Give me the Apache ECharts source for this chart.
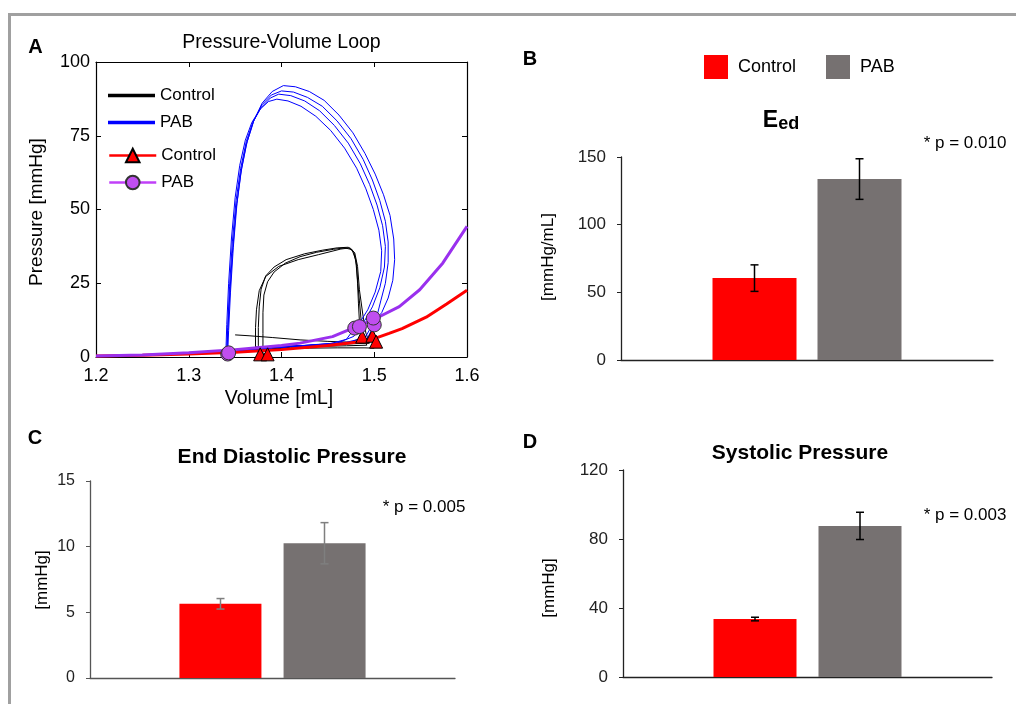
<!DOCTYPE html>
<html><head><meta charset="utf-8">
<script src="https://cdn.jsdelivr.net/npm/echarts@6/dist/echarts.min.js"></script>
<style>html,body{margin:0;padding:0;background:#fff}#c{width:1016px;height:704px}</style>
</head><body><div id="c"></div>
<script>
const FONT = 'Liberation Sans, Arial, sans-serif';

// ---------- Panel A: pressure-volume loops (volume mL, pressure mmHg) ----------
const controlLoop1 = [[1.350,7.5],[1.365,7.2],[1.390,6.6],[1.420,5.8],[1.450,5.3],[1.475,5.0],[1.486,6.5],[1.484,12],[1.483,18],[1.482,25],[1.481,31],[1.478,35.5],[1.472,37.2],[1.460,37.0],[1.444,36.2],[1.425,35.0],[1.405,33.0],[1.392,30.5],[1.383,27.5],[1.378,23],[1.376,17],[1.375,10],[1.375,4],[1.376,2.5],[1.400,2.8],[1.430,3.0],[1.460,3.1],[1.490,3.1],[1.500,3.0]];
const controlLoop2 = [[1.372,3.4],[1.372,10],[1.373,16],[1.376,22.5],[1.383,27.3],[1.397,30.7],[1.418,33],[1.440,34.7],[1.464,36.6],[1.474,37],[1.479,35.3],[1.482,30.7],[1.484,22.8],[1.488,13.7],[1.491,8.1],[1.495,4.7],[1.470,4.4],[1.440,4.0],[1.410,3.7],[1.385,3.5],[1.372,3.4]];
const controlLoop3 = [[1.380,0.8],[1.380,8],[1.380,15],[1.381,21],[1.385,25.5],[1.392,28.8],[1.404,31.8],[1.420,34],[1.438,35.5],[1.456,36.5],[1.468,37.0],[1.476,36.4],[1.480,33],[1.482,26],[1.484,19],[1.486,12],[1.489,6.5],[1.492,4.0],[1.470,3.8],[1.440,3.6],[1.410,3.3],[1.390,2.8],[1.380,0.8]];

const pabLoop1 = [[1.341,1.0],[1.342,8],[1.344,20],[1.347,35],[1.351,50],[1.356,62],[1.362,72],[1.370,80],[1.379,86],[1.390,90],[1.402,92],[1.415,91.6],[1.430,90],[1.446,87],[1.462,82],[1.477,76],[1.490,69],[1.501,62],[1.510,55],[1.517,48],[1.521,40],[1.522,33],[1.520,26],[1.515,20],[1.508,15],[1.501,12.6],[1.490,6.5],[1.470,5],[1.440,4.3],[1.410,3.6],[1.380,3.0],[1.355,2.2],[1.341,1.0]];
const pabLoop2 = [[1.342,1.2],[1.343,9],[1.345,22],[1.348,37],[1.352,52],[1.357,64],[1.363,73],[1.370,80],[1.379,85.5],[1.389,88.8],[1.400,90.2],[1.413,89.8],[1.428,88],[1.444,85],[1.460,80],[1.475,74],[1.488,67],[1.498,60],[1.506,53],[1.512,46],[1.515,39],[1.515,32],[1.512,25],[1.507,19],[1.503,14],[1.500,10.9],[1.492,6],[1.470,4.8],[1.440,4.2],[1.410,3.6],[1.380,3.0],[1.356,2.3],[1.342,1.2]];
const pabLoop3 = [[1.341,1.1],[1.342,10],[1.344,24],[1.347,39],[1.351,53],[1.356,64],[1.362,73],[1.369,79.5],[1.378,84.5],[1.388,87.8],[1.397,89.1],[1.410,88.6],[1.425,86.8],[1.441,83.5],[1.457,78.5],[1.472,72.5],[1.485,65.5],[1.495,58.5],[1.503,51.5],[1.509,44.5],[1.512,37.5],[1.511,30.5],[1.506,23.5],[1.498,17],[1.490,12.5],[1.484,10.3],[1.478,7],[1.460,4.7],[1.430,4.0],[1.400,3.4],[1.370,2.7],[1.350,1.9],[1.341,1.1]];
const pabLoop4 = [[1.340,1.3],[1.341,11],[1.343,25],[1.346,40],[1.350,54],[1.355,65],[1.361,73.5],[1.368,79.5],[1.377,84],[1.386,86.6],[1.395,87.4],[1.407,86.8],[1.421,85],[1.437,81.6],[1.453,76.8],[1.468,70.8],[1.481,64],[1.491,57],[1.499,50],[1.505,43],[1.508,36],[1.507,29],[1.501,22],[1.493,16],[1.485,12],[1.479,9.8],[1.470,6],[1.450,4.3],[1.420,3.7],[1.390,3.0],[1.365,2.3],[1.350,1.7],[1.340,1.3]];

// end-diastolic pressure-volume relations
const edpvrControl = [[1.20,0.3],[1.25,0.6],[1.30,1.0],[1.35,1.6],[1.40,2.5],[1.45,3.9],[1.48,5.0],[1.50,6.2],[1.516,8.0],[1.53,9.6],[1.556,13.5],[1.578,18],[1.60,22.6]];
const edpvrPAB = [[1.20,0.3],[1.25,0.7],[1.30,1.4],[1.35,2.5],[1.40,3.9],[1.42,4.7],[1.455,6.9],[1.477,9.8],[1.50,12.8],[1.527,17.1],[1.549,22.8],[1.574,31.9],[1.60,44.3]];

// end-diastolic points
const edControl = [[1.377,0.9],[1.385,0.9],[1.487,6.9],[1.498,7.2],[1.502,5.2]];
const edPAB = [[1.342,1.0],[1.343,1.4],[1.479,9.8],[1.484,10.3],[1.500,10.9],[1.499,13.2]];

const volTicks = [1.2, 1.6, 0.1];
const presTicks = [0, 100, 25];

// ---------- Bar panels ----------
const groups = ['Control', 'PAB'];
const eedMean = [60.5, 133.7];
const eedErr = [9.8, 15.0];
const edpMean = [5.65, 10.26];
const edpErr = [0.4, 1.57];
const sysMean = [33.6, 87.6];
const sysErr = [1.05, 7.9];
const pTexts = ['* p = 0.010', '* p = 0.005', '* p = 0.003'];
const barColors = ['#ff0000', '#767171'];

const chart = echarts.init(document.getElementById('c'), null, {renderer: 'canvas'});

function loopSeries(name, data, color) {
  return {type: 'line', name, data, xAxisIndex: 0, yAxisIndex: 0, symbol: 'none',
    lineStyle: {color, width: 1}, itemStyle: {color}, z: 2, silent: true};
}
function errSeries(ai, means, errs, barW, gap, color) {
  return {
    type: 'custom', xAxisIndex: ai, yAxisIndex: ai, z: 10, silent: true,
    data: means.map((m, i) => [0, m - errs[i], m + errs[i]]),
    renderItem(params, api) {
      const sign = params.dataIndex === 0 ? -1 : 1;
      const lo = api.coord([api.value(0), api.value(1)]);
      const hi = api.coord([api.value(0), api.value(2)]);
      const x = lo[0] + sign * (barW + gap) / 2;
      const cap = 4, st = {stroke: color, lineWidth: 1.5};
      return {type: 'group', children: [
        {type: 'line', shape: {x1: x, y1: lo[1], x2: x, y2: hi[1]}, style: st},
        {type: 'line', shape: {x1: x - cap, y1: lo[1], x2: x + cap, y2: lo[1]}, style: st},
        {type: 'line', shape: {x1: x - cap, y1: hi[1], x2: x + cap, y2: hi[1]}, style: st}
      ]};
    }
  };
}
function barSeries(ai, means, barW, gapPct) {
  return groups.map((g, i) => ({
    type: 'bar', name: g + '  ', xAxisIndex: ai, yAxisIndex: ai,
    data: [means[i]], barWidth: barW, barGap: gapPct,
    itemStyle: {color: barColors[i]}, silent: true
  }));
}
function barXAxis(gi, lineColor) {
  return {type: 'category', gridIndex: gi, data: [''], axisTick: {show: false},
    axisLabel: {show: false}, axisLine: {lineStyle: {color: lineColor, width: 1.3}}};
}
function barYAxis(gi, min, max, interval, lineColor, fs) {
  return {type: 'value', gridIndex: gi, min, max, interval, splitLine: {show: false},
    axisLine: {show: true, lineStyle: {color: lineColor, width: 1.3}},
    axisTick: {show: true, length: 4, lineStyle: {color: lineColor}},
    axisLabel: {fontFamily: FONT, fontSize: fs, color: '#222', margin: 15}};
}
function txt(x, y, text, font, opts) {
  return Object.assign({type: 'text', x, y, silent: true,
    style: {text, font, fill: '#000', align: 'center', verticalAlign: 'middle'}}, opts || {});
}

const option = {
  animation: false,
  backgroundColor: '#fff',
  grid: [
    {left: 96, top: 62, width: 371, height: 295},
    {left: 621, top: 157, width: 372, height: 203},
    {left: 90, top: 481, width: 365, height: 197},
    {left: 623, top: 470, width: 369, height: 207}
  ],
  xAxis: [
    {type: 'value', gridIndex: 0, min: volTicks[0], max: volTicks[1], interval: volTicks[2],
      splitLine: {show: false}, axisLine: {onZero: false, lineStyle: {color: '#000', width: 1.2}},
      axisTick: {inside: true, length: 5, lineStyle: {color: '#000'}},
      axisLabel: {fontFamily: FONT, fontSize: 18, color: '#000', margin: 10, formatter: v => v.toFixed(1)}},
    {type: 'value', gridIndex: 0, position: 'top', min: volTicks[0], max: volTicks[1], interval: volTicks[2],
      splitLine: {show: false}, axisLine: {onZero: false, lineStyle: {color: '#000', width: 1.2}},
      axisTick: {inside: true, length: 5, lineStyle: {color: '#000'}}, axisLabel: {show: false}},
    barXAxis(1, '#222'), barXAxis(2, '#555'), barXAxis(3, '#222')
  ],
  yAxis: [
    {type: 'value', gridIndex: 0, min: presTicks[0], max: presTicks[1], interval: presTicks[2],
      splitLine: {show: false}, axisLine: {show: true, onZero: false, lineStyle: {color: '#000', width: 1.2}},
      axisTick: {show: true, inside: true, length: 5, lineStyle: {color: '#000'}},
      axisLabel: {fontFamily: FONT, fontSize: 18, color: '#000', margin: 6}},
    {type: 'value', gridIndex: 0, position: 'right', min: presTicks[0], max: presTicks[1], interval: presTicks[2],
      splitLine: {show: false}, axisLine: {show: true, onZero: false, lineStyle: {color: '#000', width: 1.2}},
      axisTick: {show: true, inside: true, length: 5, lineStyle: {color: '#000'}}, axisLabel: {show: false}},
    barYAxis(1, 0, 150, 50, '#222', 17),
    barYAxis(2, 0, 15, 5, '#555', 16),
    barYAxis(3, 0, 120, 40, '#222', 17)
  ],
  legend: [
    {data: [{name: 'Control', icon: 'rect'}, {name: 'PAB', icon: 'rect'}], orient: 'vertical', left: 108, top: 86,
      padding: 0, itemWidth: 47, itemHeight: 3.5, itemGap: 8, selectedMode: false,
      textStyle: {fontFamily: FONT, fontSize: 17, color: '#000', lineHeight: 19}},
    {data: [{name: 'Control '}, {name: 'PAB ', lineStyle: {color: '#c040f8'}}], orient: 'vertical', left: 108, top: 147,
      padding: 0, itemWidth: 47, itemHeight: 17, itemGap: 10, selectedMode: false, lineStyle: {width: 2.5},
      formatter: n => n.trim(),
      textStyle: {fontFamily: FONT, fontSize: 17, color: '#000'}},
    {data: ['Control  ', 'PAB  '], left: 704, top: 55, padding: 0, itemWidth: 24, itemHeight: 24, itemGap: 30,
      icon: 'rect', selectedMode: false, formatter: n => n.trim(),
      textStyle: {fontFamily: FONT, fontSize: 18, color: '#000', padding: [6, 0, 0, 5]}}
  ],
  series: [
    loopSeries('Control', controlLoop1, '#000'),
    loopSeries('Control', controlLoop2, '#000'),
    loopSeries('Control', controlLoop3, '#000'),
    loopSeries('PAB', pabLoop1, '#0000ff'),
    loopSeries('PAB', pabLoop2, '#0000ff'),
    loopSeries('PAB', pabLoop3, '#0000ff'),
    loopSeries('PAB', pabLoop4, '#0000ff'),
    {type: 'line', name: 'Control ', data: edpvrControl, xAxisIndex: 0, yAxisIndex: 0,
      symbol: 'triangle', symbolSize: 14, showSymbol: false, z: 3, silent: true,
      lineStyle: {color: '#ff0000', width: 3}, itemStyle: {color: '#ff0000', borderColor: '#000', borderWidth: 1}},
    {type: 'line', name: 'PAB ', data: edpvrPAB, xAxisIndex: 0, yAxisIndex: 0,
      symbol: 'circle', symbolSize: 14, showSymbol: false, z: 3, silent: true,
      lineStyle: {color: '#9a30ee', width: 3}, itemStyle: {color: '#c04ef0', borderColor: '#333', borderWidth: 1}},
    {type: 'scatter', name: 'edC', data: edControl, xAxisIndex: 0, yAxisIndex: 0, symbol: 'triangle',
      symbolSize: 13, z: 5, silent: true, itemStyle: {color: '#ff0000', borderColor: '#000', borderWidth: 1, opacity: 1}},
    {type: 'scatter', name: 'edP', data: edPAB, xAxisIndex: 0, yAxisIndex: 0, symbol: 'circle',
      symbolSize: 14, z: 5, silent: true, itemStyle: {color: '#c04ef0', borderColor: '#333', borderWidth: 1, opacity: 1}},
    ...barSeries(2, eedMean, 84, '25%'),
    errSeries(2, eedMean, eedErr, 84, 21, '#000'),
    ...barSeries(3, edpMean, 82, '27%'),
    errSeries(3, edpMean, edpErr, 82, 22, '#7f7f7f'),
    ...barSeries(4, sysMean, 83, '26.5%'),
    errSeries(4, sysMean, sysErr, 83, 22, '#000')
  ],
  graphic: [
    {type: 'rect', shape: {x: 8, y: 13, width: 1008, height: 3}, style: {fill: '#a0a0a0'}, silent: true},
    {type: 'rect', shape: {x: 8, y: 13, width: 3, height: 691}, style: {fill: '#a0a0a0'}, silent: true},
    txt(35.5, 47.5, 'A', 'bold 20px ' + FONT),
    txt(281.5, 43, 'Pressure-Volume Loop', '19.5px ' + FONT),
    txt(36.5, 212, 'Pressure [mmHg]', '19px ' + FONT, {rotation: Math.PI / 2}),
    txt(279, 399, 'Volume [mL]', '19.5px ' + FONT),
    txt(530, 59, 'B', 'bold 20px ' + FONT),
    {type: 'text', x: 781, y: 121, silent: true, style: {
      text: '{a|E}{b|ed}', align: 'center', verticalAlign: 'middle',
      rich: {a: {font: 'bold 23px ' + FONT, fill: '#000'}, b: {font: 'bold 18px ' + FONT, fill: '#000', verticalAlign: 'bottom', padding: [6, 0, 0, 0]}}}},
    txt(965, 143, pTexts[0], '17px ' + FONT),
    txt(548, 257, '[mmHg/mL]', '17px ' + FONT, {rotation: Math.PI / 2}),
    txt(35, 438, 'C', 'bold 20px ' + FONT),
    txt(292, 457, 'End Diastolic Pressure', 'bold 21px ' + FONT),
    txt(424, 507, pTexts[1], '17px ' + FONT),
    txt(42, 580, '[mmHg]', '17px ' + FONT, {rotation: Math.PI / 2}),
    txt(530, 442, 'D', 'bold 20px ' + FONT),
    txt(800, 453, 'Systolic Pressure', 'bold 21px ' + FONT),
    txt(965, 515, pTexts[2], '17px ' + FONT),
    txt(549, 588, '[mmHg]', '17px ' + FONT, {rotation: Math.PI / 2})
  ]
};
chart.setOption(option);
</script>
</body></html>
